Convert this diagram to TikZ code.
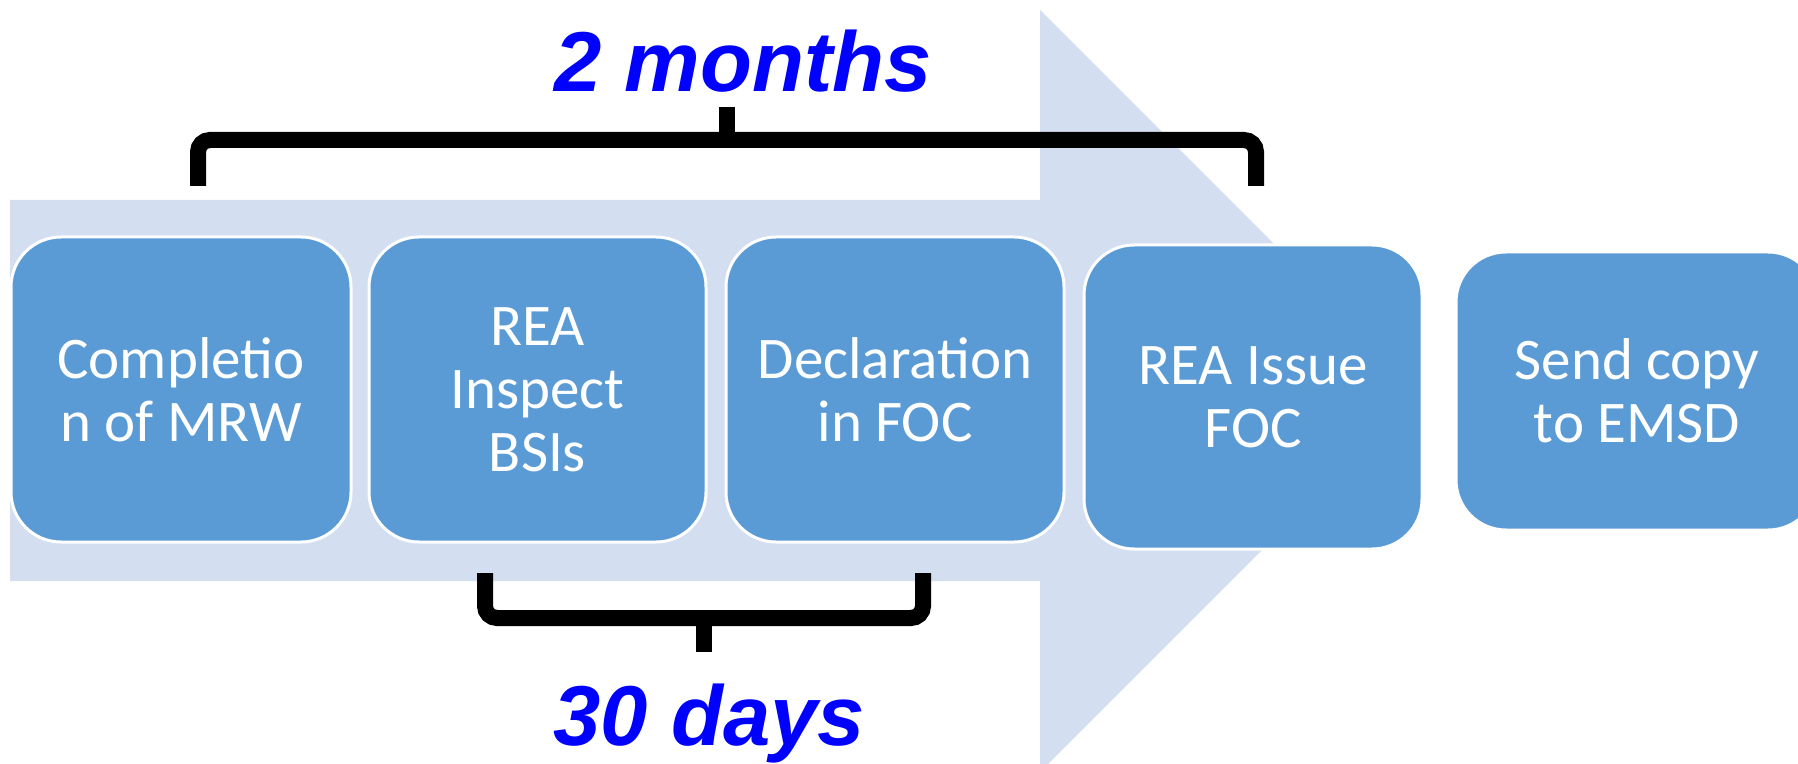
\documentclass[tikz,border=0pt]{standalone}
\usepackage{fontspec}
\setmainfont{Carlito}
\newfontfamily\lblfont{Liberation Sans}
\definecolor{arrowbg}{RGB}{211,222,240}
\definecolor{boxblue}{RGB}{91,155,213}
\definecolor{lblblue}{RGB}{0,0,255}
\tikzset{
  stepbox/.style={draw=white, line width=1.5pt, fill=boxblue, rounded corners=25pt,
    text=white, align=center, inner sep=0pt,
    font=\fontsize{29.5}{31.5}\selectfont},
  bracketline/.style={line width=8pt, rounded corners=6pt, line cap=butt, black},
  spanlabel/.style={text=lblblue, anchor=base, inner sep=0pt,
    font=\lblfont\bfseries\itshape\fontsize{42.5}{50}\selectfont}
}
\begin{document}
\begin{tikzpicture}[x=0.5pt,y=-0.5pt]
\useasboundingbox (0,0) rectangle (1798,764);
\clip (0,0) rectangle (1798,764);
% big background arrow
\fill[arrowbg] (10,200) -- (1040,200) -- (1040,10) -- (1421,391) -- (1040,772) -- (1040,581) -- (10,581) -- cycle;
% top bracket
\coordinate (tl) at (198,186);
\coordinate (tr) at (1256,186);
\coordinate (tm) at (727,140);
\coordinate (tt) at (727,107);
\draw[bracketline] (tl) -- (198,140) -- (1256,140) -- (tr);
\draw[bracketline, rounded corners=0pt] (tm) -- (tt);
% bottom bracket
\coordinate (bl) at (485,573);
\coordinate (br) at (923,573);
\coordinate (bm) at (704,618);
\coordinate (bb) at (704,652);
\draw[bracketline] (bl) -- (485,618) -- (923,618) -- (br);
\draw[bracketline, rounded corners=0pt] (bm) -- (bb);
% labels
\node[spanlabel] (months) at (743,92) {2 months};
\node[spanlabel] (days) at (709,745) {30 days};
% boxes
\node[stepbox, minimum width=170pt, minimum height=152.5pt] (b1) at (181,389.5) {Completio\\n of MRW};
\node[stepbox, minimum width=168.5pt, minimum height=152.5pt] (b2) at (537.5,389.5) {REA\\Inspect\\BSIs};
\node[stepbox, minimum width=169pt, minimum height=152.5pt] (b3) at (895,389.5) {Declaration\\in FOC};
\node[stepbox, minimum width=169pt, minimum height=152pt] (b4) at (1253,397) {REA Issue\\FOC};
\node[stepbox, minimum width=181pt, minimum height=139pt] (b5) at (1637,391) {Send copy\\to EMSD};
\end{tikzpicture}
\end{document}
